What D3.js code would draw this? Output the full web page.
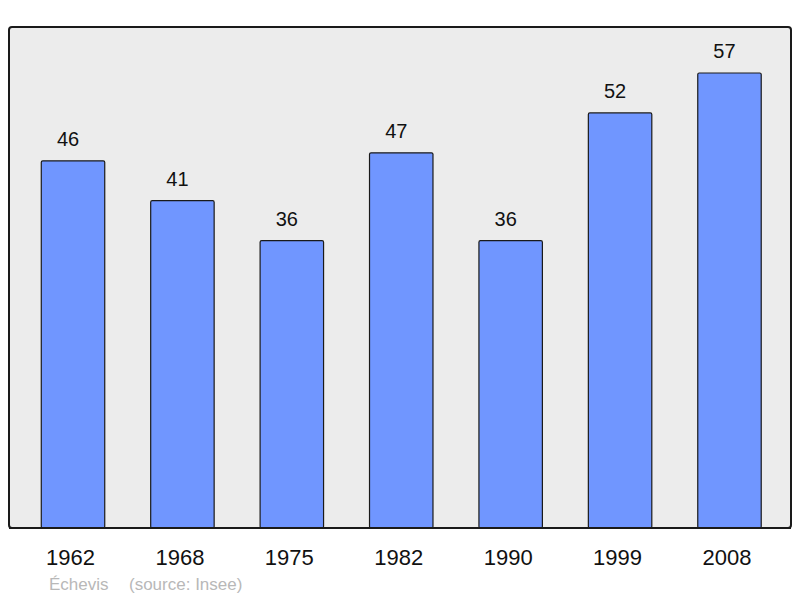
<!DOCTYPE html>
<html lang="fr">
<head>
  <meta charset="UTF-8">
  <script src="https://d3js.org/d3.v7.min.js"></script>
  <style>
    body { margin: 0; background: #ffffff; font-family: "Liberation Sans", Arial, sans-serif; }
    .frame { fill: #ececec; stroke: #1a1a1a; stroke-width: 2px; }
    .bar { fill: #7096ff; stroke: #1a1a1a; stroke-width: 1.2px; }
    .value { font-size: 20px; fill: #111; text-anchor: middle; }
    .year { font-size: 22px; fill: #111; text-anchor: middle; }
    .footer { font-size: 17px; fill: #b8b8b8; }
  </style>
</head>
<body>
  <div id="chart"></div>
  <script>
    const years = ["1962", "1968", "1975", "1982", "1990", "1999", "2008"];
    const population = [46, 41, 36, 47, 36, 52, 57];
    const place = "Échevis";
    const source = "(source: Insee)";

    const width = 800;
    const height = 598;

    const svg = d3.select("#chart")
      .append("svg")
      .attr("width", width)
      .attr("height", height);

    // cadre gris
    svg.append("rect")
      .attr("class", "frame")
      .attr("x", 9)
      .attr("y", 27)
      .attr("width", 782)
      .attr("height", 501)
      .attr("rx", 3);

    const x = d3.scaleBand()
      .domain(years)
      .range([18.3, 784.2])
      .paddingInner(0.42)
      .paddingOuter(0.21);

    const y = d3.scaleLinear()
      .domain([0, 57])
      .range([528, 73]);

    const data = years.map((yr, i) => ({ year: yr, value: population[i] }));

    svg.selectAll(".bar")
      .data(data)
      .enter().append("rect")
      .attr("class", "bar")
      .attr("x", d => x(d.year))
      .attr("y", d => y(d.value))
      .attr("width", x.bandwidth())
      .attr("height", d => y(0) - y(d.value))
      .attr("rx", 1.5);

    // les étiquettes sont un peu décalées vers la gauche dans l'original
    svg.selectAll(".value")
      .data(data)
      .enter().append("text")
      .attr("class", "value")
      .attr("x", d => x(d.year) + x.bandwidth() / 2 - 5)
      .attr("y", d => y(d.value) - 15)
      .text(d => d.value);

    // redessiner le bas du cadre par-dessus les barres
    svg.append("line")
      .attr("x1", 9).attr("x2", 791)
      .attr("y1", 528).attr("y2", 528)
      .attr("stroke", "#1a1a1a")
      .attr("stroke-width", 2);

    svg.selectAll(".year")
      .data(years)
      .enter().append("text")
      .attr("class", "year")
      .attr("x", d => x(d) + x.bandwidth() / 2 - 2.5)
      .attr("y", 564.5)
      .text(d => d);

    svg.append("text")
      .attr("class", "footer")
      .attr("x", 49)
      .attr("y", 590)
      .text(place);

    svg.append("text")
      .attr("class", "footer")
      .attr("x", 129)
      .attr("y", 590)
      .text(source);
  </script>
</body>
</html>
